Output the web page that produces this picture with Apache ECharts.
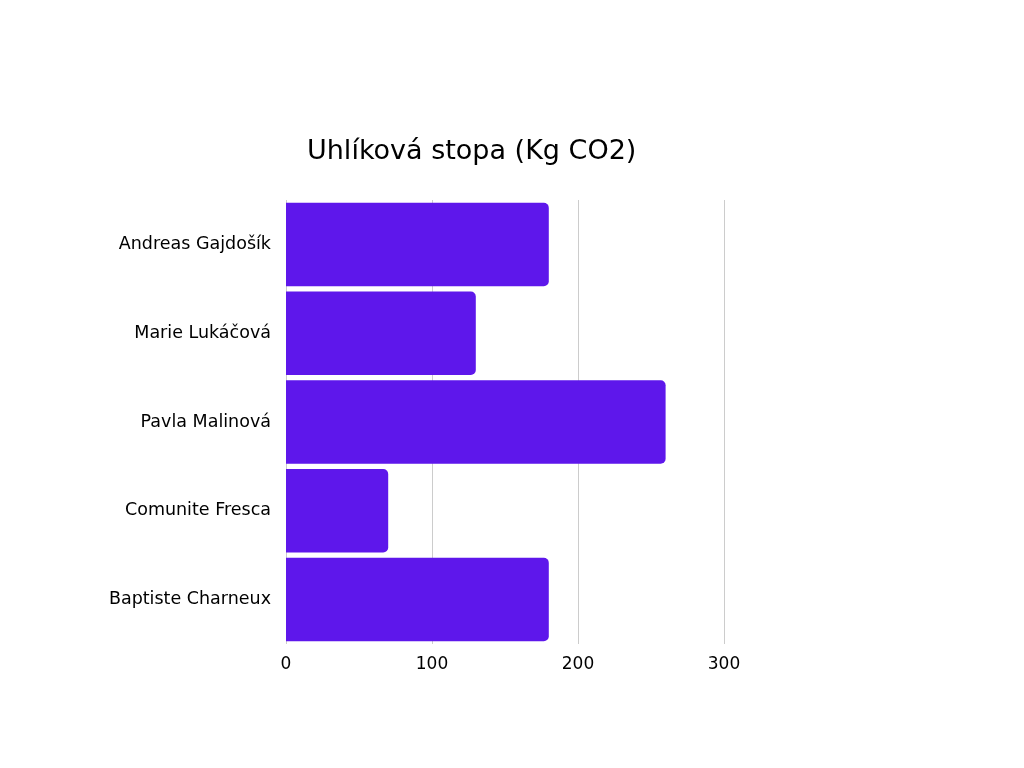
<!DOCTYPE html>
<html>
<head>
<meta charset="utf-8">
<script src="https://cdn.jsdelivr.net/npm/echarts@6/dist/echarts.min.js"></script>
<style>
html,body{margin:0;padding:0;background:#fff;}
#chart{width:1024px;height:768px;}
</style>
</head>
<body>
<div id="chart"></div>
<script>
var names = ['Andreas Gajdošík', 'Marie Lukáčová', 'Pavla Malinová', 'Comunite Fresca', 'Baptiste Charneux'];
var co2 = [180, 130, 260, 70, 180];
var ticks = [0, 100, 200, 300];

var chart = echarts.init(document.getElementById('chart'));
var font = 'DejaVu Sans';
chart.setOption({
	backgroundColor: '#ffffff',
	animation: false,
	title: {
		text: 'Uhlíková stopa (Kg CO2)',
		left: 302,
		top: 133,
		textStyle: {fontFamily: font, fontSize: 27, fontWeight: 'normal', color: '#000000'}
	},
	grid: {left: 286, right: 300, top: 200, bottom: 124, containLabel: false},
	xAxis: {
		type: 'value',
		min: ticks[0],
		max: ticks[ticks.length - 1],
		interval: 100,
		axisLine: {show: false},
		axisTick: {show: false},
		axisLabel: {margin: 12, fontFamily: font, fontSize: 17, color: '#000000'},
		splitLine: {show: true, lineStyle: {color: '#cccccc', width: 1}}
	},
	yAxis: {
		type: 'category',
		inverse: true,
		data: names,
		axisLine: {show: false},
		axisTick: {show: false},
		axisLabel: {margin: 15, fontFamily: font, fontSize: 17.5, color: '#000000'}
	},
	series: [{
		type: 'bar',
		data: co2,
		barCategoryGap: '6%',
		itemStyle: {color: '#5e17eb', borderRadius: [0, 5, 5, 0]}
	}]
});
</script>
</body>
</html>
